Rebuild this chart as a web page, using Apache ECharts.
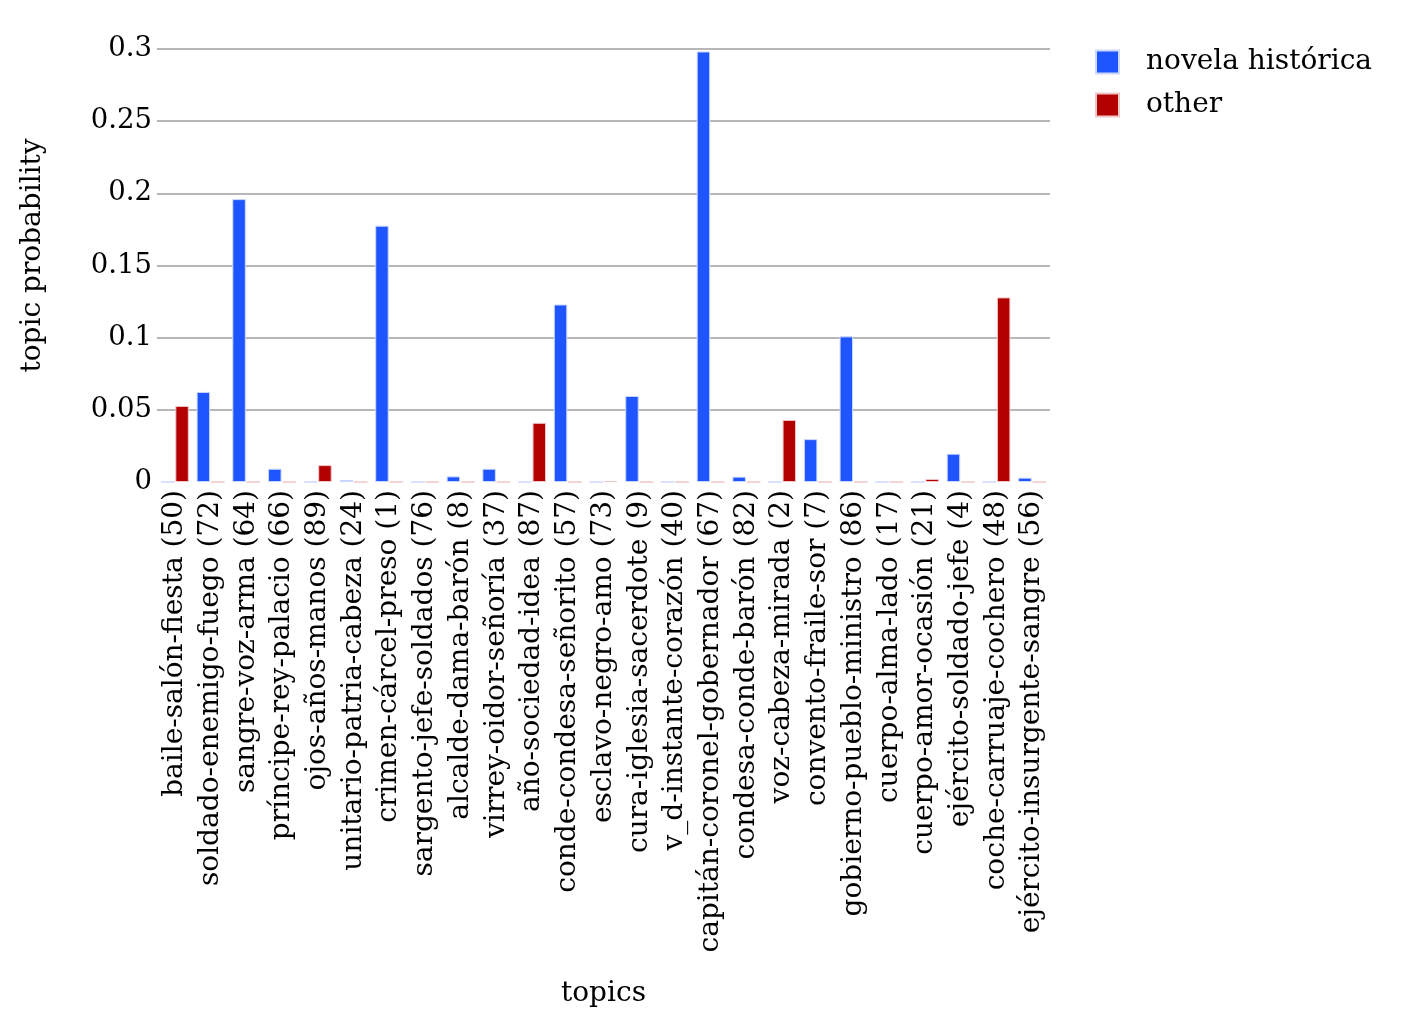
<!DOCTYPE html>
<html>
<head>
<meta charset="utf-8">
<title>topic probability</title>
<script src="https://cdn.jsdelivr.net/npm/echarts@6/dist/echarts.min.js"></script>
<style>
  html, body { margin: 0; padding: 0; background: #fff; }
  #main { width: 1410px; height: 1024px; }
</style>
</head>
<body>
<div id="main"></div>
<script>
// topics, in the order shown
var topics = [
    'baile-salón-fiesta (50)', 'soldado-enemigo-fuego (72)', 'sangre-voz-arma (64)',
    'príncipe-rey-palacio (66)', 'ojos-años-manos (89)', 'unitario-patria-cabeza (24)',
    'crimen-cárcel-preso (1)', 'sargento-jefe-soldados (76)', 'alcalde-dama-barón (8)',
    'virrey-oidor-señoría (37)', 'año-sociedad-idea (87)', 'conde-condesa-señorito (57)',
    'esclavo-negro-amo (73)', 'cura-iglesia-sacerdote (9)', 'v_d-instante-corazón (40)',
    'capitán-coronel-gobernador (67)', 'condesa-conde-barón (82)', 'voz-cabeza-mirada (2)',
    'convento-fraile-sor (7)', 'gobierno-pueblo-ministro (86)', 'cuerpo-alma-lado (17)',
    'cuerpo-amor-ocasión (21)', 'ejército-soldado-jefe (4)', 'coche-carruaje-cochero (48)',
    'ejército-insurgente-sangre (56)'
];

var novelaHistorica = [
    0, 0.0624, 0.196, 0.0092, 0, 0.0014, 0.1776, 0, 0.0039, 0.0092, 0, 0.123,
    0, 0.0596, 0, 0.2983, 0.0037, 0, 0.0297, 0.1009, 0, 0, 0.0196, 0, 0.003
];

var other = [
    0.0527, 0, 0, 0, 0.0117, 0, 0, 0, 0, 0, 0.041, 0,
    0.0006, 0, 0, 0, 0, 0.043, 0, 0, 0, 0.0021, 0, 0.1279, 0
];

var yTicks = { min: 0, max: 0.3, interval: 0.05 };

(function(){

    var chart = echarts.init(document.getElementById('main'));
    var font = 'DejaVu Serif';
    var grid = '#b7b7b7';

    var option = {
        animation: false,
        textStyle: { fontFamily: font, color: '#000' },
        legend: {
            orient: 'vertical',
            left: 1090,
            top: 43,
            itemWidth: 23,
            itemHeight: 23,
            itemGap: 15,
            icon: 'rect',
            textStyle: { fontFamily: font, fontSize: 28, color: '#000', padding: [0, 0, 0, 22] },
            data: ['novela histórica', 'other']
        },
        grid: {
            left: 157,
            right: 360,
            top: 49,
            bottom: 542
        },
        xAxis: {
            type: 'category',
            data: topics,
            name: 'topics',
            nameLocation: 'middle',
            nameGap: 498,
            nameTextStyle: { fontFamily: font, fontSize: 28, color: '#000' },
            axisLine: { show: false },
            axisTick: { show: false },
            axisLabel: {
                rotate: 90,
                interval: 0,
                margin: 8,
                fontFamily: font,
                fontSize: 28,
                color: '#000'
            }
        },
        yAxis: {
            type: 'value',
            min: yTicks.min,
            max: yTicks.max,
            interval: yTicks.interval,
            name: 'topic probability',
            nameLocation: 'middle',
            nameGap: 110,
            nameTextStyle: { fontFamily: font, fontSize: 28, color: '#000', padding: [0, 0, 0, 20] },
            axisLine: { show: false },
            axisTick: { show: false },
            axisLabel: { margin: 5, fontFamily: font, fontSize: 27.5, color: '#000' },
            splitLine: {
                lineStyle: {
                    width: 2,
                    color: ['rgba(0,0,0,0)', grid, grid, grid, grid, grid, grid]
                }
            }
        },
        series: [
            {
                name: 'novela histórica',
                type: 'bar',
                barWidth: 13.5,
                barGap: '7%',
                data: novelaHistorica,
                itemStyle: { color: '#1f55fe', borderColor: '#cdd8ff', borderWidth: 1 }
            },
            {
                name: 'other',
                type: 'bar',
                barWidth: 13.5,
                data: other,
                itemStyle: { color: '#b30000', borderColor: '#f0c6c6', borderWidth: 1 }
            }
        ]
    };

    chart.setOption(option);
})();
</script>
</body>
</html>
